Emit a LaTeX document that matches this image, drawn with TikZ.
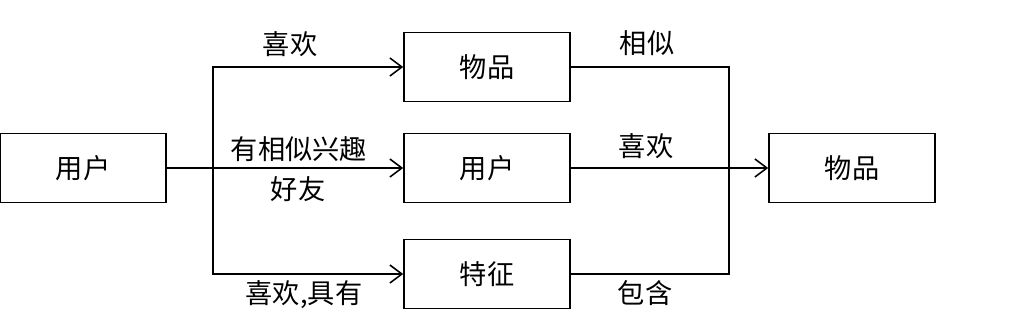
\documentclass[tikz,border=0pt]{standalone}
\usepackage{fontspec}
\setmainfont{Liberation Serif}
\newfontfamily\cjk{Noto Sans CJK SC}
\usetikzlibrary{arrows.meta,calc}

\begin{document}
\begin{tikzpicture}[x=0.02cm,y=-0.02cm,line width=0.9pt]

% --------------------
% Parameters (tweak these)
% --------------------
\def\boxW{3.32cm}  % box width
\def\boxH{1.38cm}  % box height
\def\txtsize{15.5} % label font size (pt)

\tikzset{
  box/.style={draw, minimum width=\boxW, minimum height=\boxH, inner sep=0pt,
              font=\cjk\fontsize{\txtsize}{18}\selectfont},
  arrow/.style={-{Straight Barb[length=2.4mm,width=3.6mm]}},
  lbl/.style={inner sep=0pt, font=\cjk\fontsize{\txtsize}{18}\selectfont}
}

\useasboundingbox (0,0) rectangle (1011,326);

% --------------------
% Boxes
% --------------------
\node[box] (user)  at (83,168)  {用户};
\node[box] (item)  at (487,67)  {物品};
\node[box] (peer)  at (487,168) {用户};
\node[box] (feat)  at (487,274) {特征};
\node[box] (rec)   at (852,168) {物品};

% --------------------
% Split / merge points
% --------------------
\coordinate (split) at (213,168);
\coordinate (merge) at (729,168);

% --------------------
% Dataflow lines
% --------------------
\draw (user.east) -- (split);
\draw[arrow] (split) |- (item.west);
\draw[arrow] (split) -- (peer.west);
\draw[arrow] (split) |- (feat.west);

\draw (item.east) -| (merge);
\draw (feat.east) -| (merge);
\draw[arrow] (peer.east) -- (rec.west);

% --------------------
% Edge labels
% --------------------
\node[lbl] (l1) at (290,44)  {喜欢};
\node[lbl] (l2) at (299,149) {有相似兴趣};
\node[lbl] (l3) at (298,189) {好友};
\node[lbl] (l4) at (304,295) {喜欢,具有};
\node[lbl] (r1) at (647,43)  {相似};
\node[lbl] (r2) at (646,146) {喜欢};
\node[lbl] (r3) at (645,293) {包含};

\end{tikzpicture}
\end{document}
